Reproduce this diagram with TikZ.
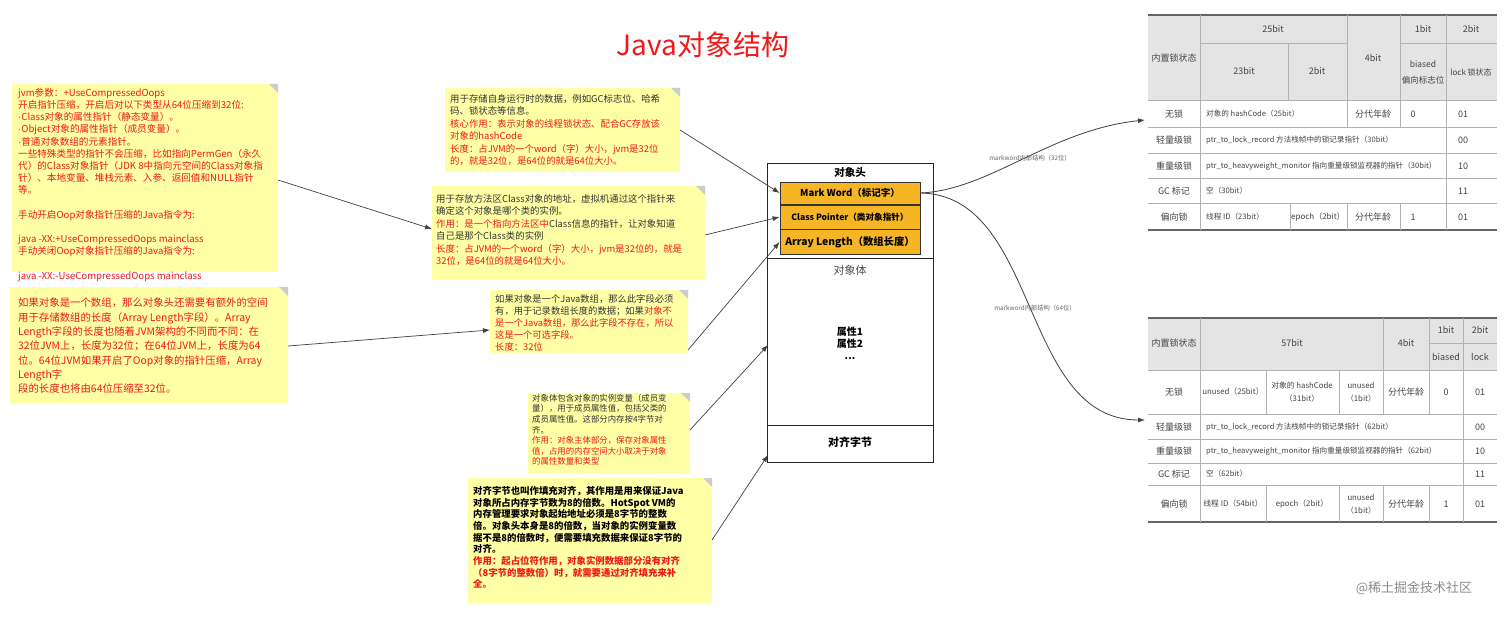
\documentclass[tikz,border=0pt]{standalone}
\usepackage{fontspec}
\setmainfont{Noto Sans CJK SC}
\newfontfamily\latinfont{Liberation Sans}
\usetikzlibrary{arrows.meta}
\definecolor{ny}{HTML}{FFFFA6}
\definecolor{rd}{HTML}{F01818}
\definecolor{og}{HTML}{F5B524}
\definecolor{tg}{HTML}{E4E4E4}
\definecolor{tt}{HTML}{444444}
\tikzset{
 note/.style={fill=ny,draw=none,inner sep=0,anchor=north west},
 ntext/.style={anchor=north west,inner sep=0,align=left,text=black!80},
 conn/.style={draw=black!75,line width=0.7pt,-{Latex[length=7pt,width=5pt]}},
 field/.style={draw=black!80,fill=og,line width=0.8pt,minimum width=140pt,inner sep=0,font=\bfseries},
 tc/.style={font=\fontsize{9}{10}\selectfont,text=tt,inner sep=0},
 tl/.style={font=\fontsize{7.6}{9}\selectfont,text=tt,inner sep=0,anchor=west},
}
\newcommand{\fold}[2]{\fill[black!20] (#1-9,#2) -- (#1,#2+9) -- (#1,#2) -- cycle;}
\newcommand{\bul}{{\latinfont ·}}
\begin{document}
\begin{tikzpicture}[x=1pt,y=-1pt]
\useasboundingbox[fill=white] (0,0) rectangle (1512,617);
\node[text=rd,font=\fontsize{28}{30}\selectfont] (title) at (703,45) {Java对象结构};
% notes
\node[note,minimum width=266pt,minimum height=188pt] (n1) at (12,84) {};
\node[ntext,text=rd,font=\fontsize{9.6}{12.2}\selectfont] at (18,88) {jvm参数：+UseCompressedOops\\开启指针压缩，开启后对以下类型从64位压缩到32位:\\\bul Class对象的属性指针（静态变量）。\\\bul Object对象的属性指针（成员变量）。\\\bul 普通对象数组的元素指针。\\一些特殊类型的指针不会压缩，比如指向PermGen（永久\\代）的Class对象指针（JDK 8中指向元空间的Class对象指\\针）、本地变量、堆栈元素、入参、返回值和NULL指针\\等。\\[12.2pt]手动开启Oop对象指针压缩的Java指令为:\\[12.2pt]java -XX:+UseCompressedOops mainclass\\手动关闭Oop对象指针压缩的Java指令为:\\[12.2pt]java -XX:-UseCompressedOops mainclass};
\node[note,minimum width=278pt,minimum height=116pt] (n2) at (10,287) {};
\node[ntext,text=rd,font=\fontsize{10.4}{14.3}\selectfont] at (18,298) {如果对象是一个数组，那么对象头还需要有额外的空间\\用于存储数组的长度（Array Length字段）。Array\\Length字段的长度也随着JVM架构的不同而不同：在\\32位JVM上，长度为32位；在64位JVM上，长度为64\\位。64位JVM如果开启了Oop对象的指针压缩，Array\\Length字\\段的长度也将由64位压缩至32位。};
\node[note,minimum width=235pt,minimum height=84pt] (n3) at (445,88) {};
\node[ntext,font=\fontsize{9.4}{12.5}\selectfont] at (450,94) {用于存储自身运行时的数据，例如GC标志位、哈希\\码、锁状态等信息。\\\textcolor{rd}{核心作用：表示对象的线程锁状态、配合GC存放该}\\\textcolor{rd}{对象的hashCode}\\\textcolor{rd}{长度：占JVM的一个word（字）大小，jvm是32位}\\\textcolor{rd}{的，就是32位，是64位的就是64位大小。}};
\node[note,minimum width=273pt,minimum height=94pt] (n4) at (432,186) {};
\node[ntext,font=\fontsize{9.4}{12.5}\selectfont] at (436,194) {用于存放方法区Class对象的地址，虚拟机通过这个指针来\\确定这个对象是哪个类的实例。\\\textcolor{rd}{作用：是一个指向方法区中}Class信息的指针，让对象知道\\自己是那个Class类的实例\\\textcolor{rd}{长度：占JVM的一个word（字）大小，jvm是32位的，就是}\\\textcolor{rd}{32位，是64位的就是64位大小。}};
\node[note,minimum width=198pt,minimum height=63pt] (n5) at (490,290) {};
\node[ntext,font=\fontsize{9.3}{12.2}\selectfont] at (495,294) {如果对象是一个Java数组，那么此字段必须\\有，用于记录数组长度的数据；如果\textcolor{rd}{对象不}\\\textcolor{rd}{是一个Java数组，那么此字段不存在，所以}\\\textcolor{rd}{这是一个可选字段。}\\\textcolor{rd}{长度：32位}};
\node[note,minimum width=162pt,minimum height=80pt] (n6) at (528,393) {};
\node[ntext,font=\fontsize{8.4}{10.6}\selectfont] at (532,394) {对象体包含对象的实例变量（成员变\\量），用于成员属性值，包括父类的\\成员属性值。这部分内存按4字节对\\齐。\\\textcolor{rd}{作用：对象主体部分，保存对象属性}\\\textcolor{rd}{值，占用的内存空间大小取决于对象}\\\textcolor{rd}{的属性数量和类型}};
\node[note,minimum width=244pt,minimum height=125pt] (n7) at (468,478) {};
\node[ntext,font=\bfseries\fontsize{9.4}{11.7}\selectfont,text=black] at (473,486) {对齐字节也叫作填充对齐，其作用是用来保证Java\\对象所占内存字节数为8的倍数。HotSpot VM的\\内存管理要求对象起始地址必须是8字节的整数\\倍。对象头本身是8的倍数，当对象的实例变量数\\据不是8的倍数时，便需要填充数据来保证8字节的\\对齐。\\\textcolor{rd}{作用：起占位符作用，对象实例数据部分没有对齐}\\\textcolor{rd}{（8字节的整数倍）时，就需要通过对齐填充来补}\\\textcolor{rd}{全。}};
\fold{278}{84}\fold{288}{287}\fold{680}{88}\fold{705}{186}\fold{688}{290}\fold{690}{393}\fold{712}{478}
% object box
\node[draw=black!85,line width=0.9pt,minimum width=166pt,minimum height=299pt,inner sep=0,anchor=north west] (obj) at (767,163) {};
\draw[black!85,line width=0.9pt] (767,258) -- (933,258);
\draw[black!85,line width=0.9pt] (767,425) -- (933,425);
\node[font=\bfseries\fontsize{10.5}{12}\selectfont] (hd) at (850,172) {对象头};
\node[field,minimum height=22pt,font=\bfseries\fontsize{9.5}{11}\selectfont] (mw) at (850,193) {Mark Word（标记字）};
\node[field,minimum height=24pt,font=\bfseries\fontsize{8.6}{10}\selectfont] (cp) at (850,217) {Class Pointer（类对象指针）};
\node[field,minimum height=25pt,font=\bfseries\fontsize{10.3}{12}\selectfont] (al) at (850,242) {Array Length（数组长度）};
\node[text=black!70,font=\fontsize{11}{12}\selectfont] (body) at (850,270) {对象体};
\node[align=center,font=\bfseries\fontsize{10}{12}\selectfont] (attr) at (850,343) {属性1\\属性2\\...};
\node[font=\bfseries\fontsize{11}{12}\selectfont] (pad) at (850,442) {对齐字节};
\coordinate (bodyin) at (768,345);
\coordinate (padin) at (768,455);
% connectors
\draw[conn] (278,180) -- (432,229);
\draw[conn] (680,130) -- (mw.west);
\draw[conn] (705,235) -- (cp.west);
\draw[conn] (688,350) -- (al.west);
\draw[conn] (288,346) -- (490,330);
\draw[conn] (690,430) -- (bodyin);
\draw[conn] (712,540) -- (padin);
% tables
\begin{scope}
\fill[tg] (1148,15) rectangle (1497,100);
\draw[black!60,line width=1.6pt] (1148,15) -- (1497,15) (1148,230) -- (1497,230);
\draw[black!30,line width=0.5pt] (1200,15) -- (1200,230) (1288,43) -- (1288,100) (1347,15) -- (1347,127) (1400,15) -- (1400,127) (1446,15) -- (1446,230)
 (1200,43) -- (1347,43) (1400,43) -- (1497,43) (1148,100) -- (1497,100) (1148,127) -- (1497,127) (1148,153) -- (1497,153) (1148,178) -- (1497,178) (1148,203) -- (1497,203)
 (1290,203) -- (1290,230) (1347,203) -- (1347,230) (1400,203) -- (1400,230);
\node[tc] (t1) at (1174,58) {内置锁状态};
\node[tc] at (1273,29) {25bit}; \node[tc] at (1244,71) {23bit}; \node[tc] at (1317,71) {2bit};
\node[tc] at (1373,58) {4bit}; \node[tc] at (1423,29) {1bit}; \node[tc] at (1471,29) {2bit};
\node[tc,align=center,font=\fontsize{8.5}{10}\selectfont] at (1423,72) {biased\\[6pt]偏向标志位}; \node[tc,font=\fontsize{8}{10}\selectfont] at (1471,72) {lock 锁状态};
\node[tc] at (1174,114) {无锁}; \node[tl] at (1206,114) {对象的 hashCode（25bit）}; \node[tc] at (1373,114) {分代年龄}; \node[tc] at (1413,114) {0}; \node[tc] at (1463,114) {01};
\node[tc] at (1174,140) {轻量级锁}; \node[tl] at (1206,140) {ptr\_to\_lock\_record 方法栈帧中的锁记录指针（30bit）}; \node[tc] at (1463,140) {00};
\node[tc] at (1174,166) {重量级锁}; \node[tl] at (1206,166) {ptr\_to\_heavyweight\_monitor 指向重量级锁监视器的指针（30bit）}; \node[tc] at (1463,166) {10};
\node[tc] at (1174,191) {GC 标记}; \node[tl] at (1206,191) {空（30bit）}; \node[tc] at (1463,191) {11};
\node[tc] at (1174,217) {偏向锁}; \node[tl] at (1206,217) {线程 ID（23bit）}; \node[tc,font=\fontsize{8}{10}\selectfont] at (1318,217) {epoch（2bit）}; \node[tc] at (1373,217) {分代年龄}; \node[tc] at (1413,217) {1}; \node[tc] at (1463,217) {01};
\end{scope}
\begin{scope}
\fill[tg] (1148,318) rectangle (1497,370);
\draw[black!60,line width=1.6pt] (1148,318) -- (1497,318) (1148,522) -- (1497,522);
\draw[black!30,line width=0.5pt] (1200,318) -- (1200,522) (1383,318) -- (1383,414) (1429,318) -- (1429,414) (1463,318) -- (1463,522)
 (1429,343) -- (1497,343) (1148,370) -- (1497,370) (1148,414) -- (1497,414) (1148,439) -- (1497,439) (1148,463) -- (1497,463) (1148,485) -- (1497,485)
 (1266,370) -- (1266,414) (1339,370) -- (1339,414) (1266,485) -- (1266,522) (1339,485) -- (1339,522) (1383,485) -- (1383,522) (1429,485) -- (1429,522);
\node[tc] (t2) at (1174,343) {内置锁状态}; \node[tc] at (1292,343) {57bit}; \node[tc] at (1406,343) {4bit};
\node[tc] at (1446,330) {1bit}; \node[tc] at (1480,330) {2bit}; \node[tc] at (1446,357) {biased}; \node[tc] at (1480,357) {lock};
\node[tc] at (1174,392) {无锁}; \node[tc,font=\fontsize{7.8}{9}\selectfont] at (1233,392) {unused（25bit）}; \node[tc,align=center,font=\fontsize{7.8}{9}\selectfont] at (1302,392) {对象的 hashCode\\[4pt]（31bit）}; \node[tc,align=center,font=\fontsize{7.8}{9}\selectfont] at (1361,392) {unused\\[4pt]（1bit）}; \node[tc] at (1406,392) {分代年龄}; \node[tc] at (1446,392) {0}; \node[tc] at (1480,392) {01};
\node[tc] at (1174,427) {轻量级锁}; \node[tl] at (1206,427) {ptr\_to\_lock\_record 方法栈帧中的锁记录指针（62bit）}; \node[tc] at (1480,427) {00};
\node[tc] at (1174,451) {重量级锁}; \node[tl] at (1206,451) {ptr\_to\_heavyweight\_monitor 指向重量级锁监视器的指针（62bit）}; \node[tc] at (1480,451) {10};
\node[tc] at (1174,474) {GC 标记}; \node[tl] at (1206,474) {空（62bit）}; \node[tc] at (1480,474) {11};
\node[tc] at (1174,504) {偏向锁}; \node[tc,font=\fontsize{7.8}{9}\selectfont] at (1233,504) {线程 ID（54bit）}; \node[tc,font=\fontsize{7.8}{9}\selectfont] at (1302,504) {epoch（2bit）}; \node[tc,align=center,font=\fontsize{7.8}{9}\selectfont] at (1361,504) {unused\\[4pt]（1bit）}; \node[tc] at (1406,504) {分代年龄}; \node[tc] at (1446,504) {1}; \node[tc] at (1480,504) {01};
\end{scope}
\coordinate (tin1) at (1145,120);
\coordinate (tin2) at (1145,420);
\draw[conn,line width=0.8pt] (mw.east) .. controls (990,190) and (1050,130) .. (tin1);
\draw[conn,line width=0.8pt] (mw.east) .. controls (1040,195) and (1020,420) .. (tin2);
\node[text=black!60,font=\fontsize{6.3}{7}\selectfont] (l1) at (1030,158) {markword内部结构（32位）};
\node[text=black!60,font=\fontsize{6.3}{7}\selectfont] (l2) at (1035,308) {markword内部结构（64位）};
\node[text=black!45,font=\fontsize{13}{14}\selectfont] (wm) at (1414,588) {@稀土掘金技术社区};
\end{tikzpicture}
\end{document}
